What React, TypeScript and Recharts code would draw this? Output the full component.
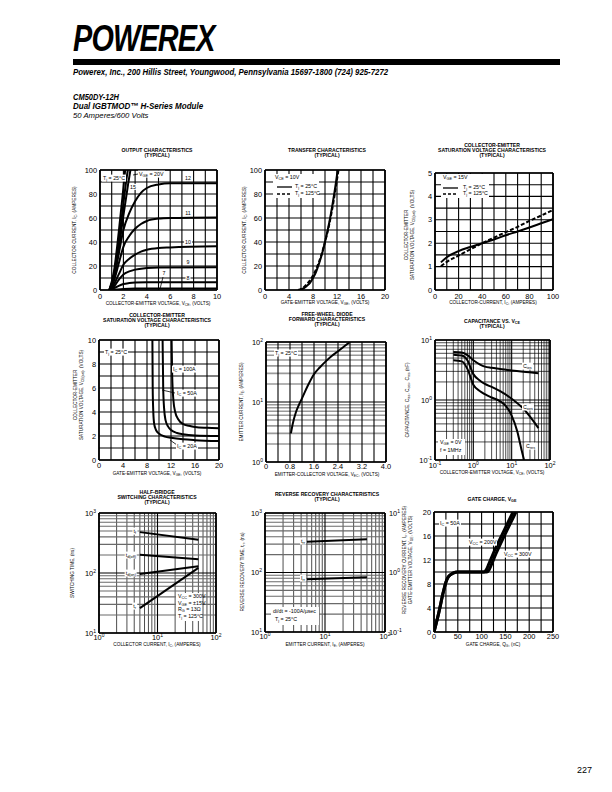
import React from 'react';
import { LineChart, Line, XAxis, YAxis, ReferenceLine } from 'recharts';

const FONT = '"Liberation Sans", Arial, Helvetica, sans-serif';

type Pt = { x: number; y: number };
const pts = (a: number[][]): Pt[] => a.map(([x, y]) => ({ x, y }));

// ---------- Chart 1: output characteristics ----------
const out7 = pts([[0.8, 0], [1.2, 0.3], [2, 0.9], [3, 1.2], [10, 1.3]]);
const out8 = pts([[0.8, 0], [1.2, 1.5], [1.6, 3.5], [2, 5], [2.5, 5.8], [3, 6.2], [4, 6.4], [10, 6.5]]);
const out9 = pts([[0.8, 0], [1.2, 3], [1.6, 8.5], [2, 13], [2.5, 15.5], [3, 17], [4, 18.3], [5, 18.8], [10, 19]]);
const out10 = pts([[0.8, 0], [1.2, 5], [1.6, 13], [2, 21], [2.5, 26], [3, 29.5], [3.5, 32], [4, 33.5], [5, 35], [6, 35.5], [10, 36.5]]);
const out11 = pts([[0.8, 0], [1.2, 8], [1.6, 22], [2, 36], [2.5, 45], [3, 51], [3.5, 55], [4, 57.5], [5, 59.5], [6, 60], [10, 60.5]]);
const out12 = pts([[0.8, 0], [1.2, 10], [1.6, 30], [2, 50], [2.5, 64], [3, 74], [3.5, 81], [4, 85], [5, 88], [6, 89], [10, 89]]);
const out13 = pts([[0.8, 0], [1.2, 11], [1.6, 34], [2, 62], [2.4, 88], [2.6, 100]]);
const out15 = pts([[0.8, 0], [1.2, 13], [1.6, 40], [2, 72], [2.3, 95], [2.38, 100]]);
const out20 = pts([[0.8, 0], [1.2, 16], [1.6, 48], [2, 85], [2.15, 100]]);
const c1XTicks = [0, 2, 4, 6, 8, 10];
const c1YTicks = [0, 20, 40, 60, 80, 100];

// ---------- Chart 2: transfer characteristics ----------
const tr25 = pts([[5.8, 0], [6.5, 1.5], [7, 3.5], [7.5, 6], [8, 10], [8.5, 15], [9, 22], [9.5, 30], [10, 40], [10.5, 51], [11, 64], [11.5, 79], [12, 96], [12.1, 100]]);
const tr125 = pts([[5.5, 0], [6.5, 2.5], [7, 5], [7.5, 8], [8, 12], [8.5, 17], [9, 23.5], [9.5, 31], [10, 40], [10.5, 50], [11, 62], [11.5, 76], [12, 92], [12.25, 100]]);
const c2XTicks = [0, 4, 8, 12, 16, 20];

// ---------- Chart 3: Vce(sat) vs Ic ----------
const sat25 = pts([[5, 1.18], [10, 1.4], [20, 1.66], [30, 1.84], [40, 2.0], [50, 2.16], [60, 2.34], [70, 2.5], [80, 2.67], [90, 2.85], [100, 3.03]]);
const sat125 = pts([[5, 1.02], [10, 1.2], [20, 1.47], [30, 1.74], [40, 2.0], [50, 2.24], [60, 2.47], [70, 2.7], [80, 2.95], [90, 3.18], [100, 3.42]]);
const c3XTicks = [0, 20, 40, 60, 80, 100];
const c3YTicks = [0, 1, 2, 3, 4, 5];

// ---------- Chart 4: Vce(sat) vs Vge ----------
const vg20 = pts([[8.9, 10], [8.95, 6], [9.05, 4], [9.2, 3], [9.5, 2.5], [10, 2.2], [11, 1.95], [12, 1.85], [14, 1.72], [16, 1.65], [20, 1.58]]);
const vg50 = pts([[10.6, 10], [10.7, 6], [10.85, 4.3], [11.1, 3.3], [11.5, 2.8], [12, 2.5], [13, 2.25], [14, 2.15], [16, 2.05], [20, 2.0]]);
const vg100 = pts([[12.1, 10], [12.2, 7], [12.4, 5], [12.7, 4], [13.2, 3.4], [14, 3.0], [15, 2.85], [16, 2.75], [18, 2.68], [20, 2.64]]);
const c4XTicks = [0, 4, 8, 12, 16, 20];
const c4YTicks = [0, 2, 4, 6, 8, 10];

// ---------- Chart 5: diode forward ----------
const diode = pts([[0.83, 3], [0.9, 4.5], [1.0, 6.8], [1.1, 9], [1.2, 11.5], [1.4, 19], [1.6, 29], [1.8, 38], [2.0, 48], [2.2, 59], [2.4, 70], [2.6, 84], [2.8, 100]]);
const c5XTicks = [0, 0.8, 1.6, 2.4, 3.2, 4.0];
const c5YTicks = [1, 10, 100];

// ---------- Chart 6: capacitance ----------
const cies = pts([[0.3, 6.3], [0.5, 6.2], [0.7, 5.6], [1, 4.6], [1.5, 3.9], [2, 3.6], [3, 3.45], [5, 3.3], [10, 3.1], [20, 2.95], [50, 2.8]]);
const coes = pts([[0.3, 5.7], [0.5, 5.5], [0.7, 4.6], [1, 2.7], [1.5, 2.1], [2, 1.85], [3, 1.65], [5, 1.4], [10, 1.05], [20, 0.72], [50, 0.34]]);
const cres = pts([[0.3, 4.6], [0.5, 4.4], [0.7, 3.3], [1, 1.8], [1.5, 1.4], [2, 1.25], [3, 1.1], [5, 0.95], [7, 0.8], [10, 0.55], [14, 0.3], [18, 0.15], [21, 0.1]]);
const c6XTicks = [0.1, 1, 10, 100];
const c6YTicks = [0.1, 1, 10];

// ---------- Chart 7: switching ----------
const swTf = pts([[5, 480], [50, 358]]);
const swTdOff = pts([[5, 202], [50, 170]]);
const swTdOn = pts([[5, 96], [50, 130]]);
const swTr = pts([[5, 26], [50, 122]]);
const c7XTicks = [1, 10, 100];
const c7YTicks = [10, 100, 1000];

// ---------- Chart 8: reverse recovery ----------
const rrTrr = pts([[5, 330], [50, 362]]);
const rrIrr = pts([[5, 0.77], [50, 0.83]]);
const c8YRTicks = [0.1, 1, 10];

// ---------- Chart 9: gate charge ----------
const qg200 = pts([[0, 0], [10, 3.2], [20, 6.8], [25, 8.3], [30, 9.2], [40, 9.8], [50, 10], [105, 10], [110, 10.4], [115, 11.3], [124, 13], [144, 16.4], [160, 19], [166, 20]]);
const qg300 = pts([[0, 0], [10, 3.2], [20, 6.8], [25, 8.3], [30, 9.2], [40, 9.8], [50, 10], [111, 10], [116, 10.4], [121, 11.3], [130, 13], [150, 16.4], [166, 19], [172, 20]]);
const c9XTicks = [0, 50, 100, 150, 200, 250];
const c9YTicks = [0, 4, 8, 12, 16, 20];

// ---------- helpers ----------
const seq = (a: number, b: number, s: number) => {
  const r: number[] = [];
  for (let v = a; v <= b + 1e-9; v += s) r.push(Math.round(v * 1e6) / 1e6);
  return r;
};
const logMinor = (lo: number, hi: number) => {
  const r: number[] = [];
  for (let d = lo; d < hi - 1e-9; d *= 10) for (let k = 2; k <= 9; k++) r.push(Math.round(k * d * 1e6) / 1e6);
  return r;
};
const pw = (v: number) => {
  const e = Math.round(Math.log10(v));
  return [<tspan key="b">10</tspan>, <tspan key="e" dy="-0.55em" fontSize={5}>{e}</tspan>];
};
const f1 = (v: number) => (v === 0 ? '0' : v.toFixed(1));

const XT = ({ x, y, payload, fmt }: any) => (
  <text x={x} y={y} dy="0.35em" textAnchor="middle" fontSize={7.4} fontFamily={FONT} fill="#000">
    {fmt ? fmt(payload.value) : String(payload.value)}
  </text>
);
const YT = ({ x, y, payload, fmt, anchor }: any) => (
  <text x={x} y={y} dy="0.35em" textAnchor={anchor || 'end'} fontSize={7.4} fontFamily={FONT} fill="#000">
    {fmt ? fmt(payload.value) : String(payload.value)}
  </text>
);

type Ax = { d: [number, number]; log?: boolean; ticks: number[]; fmt?: (v: number) => any };
type GS = { c: string; w: number };
const MAJ: GS = { c: '#000', w: 1.1 };
const THIN: GS = { c: '#000', w: 0.7 };
const GRAY: GS = { c: '#9a9a9a', w: 1.6 };
const MIDG: GS = { c: '#6a6a6a', w: 1.1 };

function Plot(props: any) {
  const { box, x, y, y2, xg = [], yg = [], xm = [], ym = [], xmS = THIN, ymS = THIN, tm = 6.5, children } = props;
  const [L, T, W, H] = box;
  const lw = 34, rw = y2 ? 30 : 12, tp = 6, bh = 16;
  return (
    <div style={{ position: 'absolute', left: L - lw, top: T - tp }}>
      <LineChart width={W + lw + rw} height={H + tp + bh} margin={{ top: tp, right: y2 ? 0 : rw, bottom: 0, left: 0 }}>
        <XAxis type="number" dataKey="x" scale={x.log ? 'log' : 'linear'} domain={x.d} allowDataOverflow ticks={x.ticks} interval={0}
          axisLine={false} tickLine={false} tickSize={0} tickMargin={tm} height={bh} tick={(p: any) => <XT {...p} fmt={x.fmt} />} />
        <YAxis type="number" scale={y.log ? 'log' : 'linear'} domain={y.d} allowDataOverflow ticks={y.ticks} interval={0}
          axisLine={false} tickLine={false} tickSize={0} tickMargin={3} width={lw} tick={(p: any) => <YT {...p} fmt={y.fmt} />} />
        {y2 && (
          <YAxis yAxisId="r" orientation="right" type="number" scale={y2.log ? 'log' : 'linear'} domain={y2.d} allowDataOverflow ticks={y2.ticks} interval={0}
            axisLine={false} tickLine={false} tickSize={0} tickMargin={4} width={rw} tick={(p: any) => <YT {...p} fmt={y2.fmt} anchor="start" />} />
        )}
        {xm.map((v: number) => <ReferenceLine key={'xm' + v} x={v} stroke={xmS.c} strokeWidth={xmS.w} ifOverflow="visible" />)}
        {ym.map((v: number) => <ReferenceLine key={'ym' + v} y={v} stroke={ymS.c} strokeWidth={ymS.w} ifOverflow="visible" />)}
        {xg.map((v: number) => <ReferenceLine key={'xg' + v} x={v} stroke={MAJ.c} strokeWidth={MAJ.w} ifOverflow="visible" />)}
        {yg.map((v: number) => <ReferenceLine key={'yg' + v} y={v} stroke={MAJ.c} strokeWidth={MAJ.w} ifOverflow="visible" />)}
        <ReferenceLine x={x.d[0]} stroke="#000" strokeWidth={1.7} ifOverflow="visible" />
        <ReferenceLine x={x.d[1]} stroke="#000" strokeWidth={1.7} ifOverflow="visible" />
        <ReferenceLine y={y.d[0]} stroke="#000" strokeWidth={1.7} ifOverflow="visible" />
        <ReferenceLine y={y.d[1]} stroke="#000" strokeWidth={1.7} ifOverflow="visible" />
        {children}
      </LineChart>
    </div>
  );
}

const ln = (d: Pt[], k: string, extra: any = {}) => (
  <Line key={k} data={d} dataKey="y" type="monotone" dot={false} activeDot={false} stroke="#000" strokeWidth={2}
    isAnimationActive={false} {...extra} />
);

function rich(str: string, s: number) {
  const out: any[] = [];
  const re = /([_^])\{([^}]*)\}/g;
  let last = 0, m: any, k = 0;
  while ((m = re.exec(str))) {
    if (m.index > last) out.push(str.slice(last, m.index));
    const sub = m[1] === '_';
    out.push(<span key={k++} style={{ fontSize: Math.max(s * 0.72, 3), position: 'relative', top: sub ? s * 0.28 : -s * 0.4 }}>{m[2]}</span>);
    last = re.lastIndex;
  }
  if (last < str.length) out.push(str.slice(last));
  return out;
}

function Tx({ x, y, t, s = 5.5, b = false, it = false, a = 's', rot = false, bg = false, sx = 1 }: any) {
  const tx = a === 'm' ? '-50%' : a === 'e' ? '-100%' : '0';
  let tr = `translate(${tx},-50%)`;
  if (rot) tr += ' rotate(-90deg)';
  if (sx !== 1) tr += ` scaleX(${sx})`;
  return (
    <div style={{
      position: 'absolute', left: x, top: y, fontSize: s, fontWeight: b ? 700 : 400, fontStyle: it ? 'italic' : 'normal',
      fontFamily: FONT, whiteSpace: 'nowrap', lineHeight: 1, color: '#000', transform: tr,
      transformOrigin: sx !== 1 && a === 's' ? 'left center' : 'center center',
      background: bg ? '#fff' : 'transparent', padding: bg ? '0.5px 1px' : 0,
    }}>{rich(t, s)}</div>
  );
}
const Box = ({ x, y, w, h }: any) => <div style={{ position: 'absolute', left: x, top: y, width: w, height: h, background: '#fff' }} />;

const TS = 5.1; // title size
const AS = 4.7; // axis title size

export default function App() {
  return (
    <div style={{ position: 'absolute', left: 0, top: 0, width: 612, height: 792, background: '#fff', overflow: 'hidden', fontFamily: FONT }}>
      {/* header */}
      <div style={{ position: 'absolute', left: 73, top: 21, fontSize: 36, fontWeight: 700, fontStyle: 'italic', fontFamily: FONT, lineHeight: 1,
        transform: 'scaleX(0.8)', transformOrigin: 'left top', letterSpacing: -1 }}>POWEREX</div>
      <div style={{ position: 'absolute', left: 73, top: 59, width: 487, height: 6, background: '#000' }} />
      <Tx x={73} y={72} t="Powerex, Inc., 200 Hillis Street, Youngwood, Pennsylvania 15697-1800 (724) 925-7272" s={8.5} b it sx={0.92} />
      <Tx x={73} y={97} t="CM50DY-12H" s={8.5} b it sx={0.88} />
      <Tx x={73} y={106} t="Dual IGBTMOD™ H-Series Module" s={8.5} b it sx={0.94} />
      <Tx x={73} y={116} t="50 Amperes/600 Volts" s={7.5} it sx={1.03} />
      <Tx x={592} y={770} t="227" s={9} a="e" />

      {/* Chart 1 */}
      <Plot box={[100, 170, 117, 120]} x={{ d: [0, 10], ticks: c1XTicks }} y={{ d: [0, 100], ticks: c1YTicks }}
        xg={seq(0, 10, 1)} yg={seq(0, 100, 10)}>
        {ln(out7, 'a')}{ln(out8, 'b')}{ln(out9, 'c')}{ln(out10, 'd')}{ln(out11, 'e')}{ln(out12, 'f')}
        {ln(out13, 'g')}{ln(out15, 'h')}{ln(out20, 'i')}
      </Plot>
      {/* Chart 2 */}
      <Plot box={[265, 170, 120, 120]} x={{ d: [0, 20], ticks: c2XTicks }} y={{ d: [0, 100], ticks: c1YTicks }}
        xg={seq(0, 20, 2)} yg={seq(0, 100, 10)}>
        {ln(tr25, 'a')}{ln(tr125, 'b', { strokeDasharray: '4 2' })}
      </Plot>
      {/* Chart 3 */}
      <Plot box={[435, 173, 118, 117]} x={{ d: [0, 100], ticks: c3XTicks }} y={{ d: [0, 5], ticks: c3YTicks }}
        xg={seq(0, 100, 10)} yg={seq(0, 5, 0.5)}>
        {ln(sat25, 'a')}{ln(sat125, 'b', { strokeDasharray: '4 2' })}
      </Plot>
      {/* Chart 4 */}
      <Plot box={[99, 340, 120, 120]} x={{ d: [0, 20], ticks: c4XTicks }} y={{ d: [0, 10], ticks: c4YTicks }} tm={5}
        xg={seq(0, 20, 2)} yg={seq(0, 10, 1)}>
        {ln(vg20, 'a')}{ln(vg50, 'b')}{ln(vg100, 'c')}
      </Plot>
      {/* Chart 5 */}
      <Plot box={[266, 342, 120, 120]} x={{ d: [0, 4], ticks: c5XTicks, fmt: f1 }} y={{ d: [1, 100], log: true, ticks: c5YTicks, fmt: pw }} tm={4.5}
        xg={seq(0, 4, 0.4)} yg={[1, 10, 100]} ym={logMinor(1, 100)} ymS={GRAY}>
        {ln(diode, 'a')}
      </Plot>
      {/* Chart 6 */}
      <Plot box={[435, 340, 115, 120]} x={{ d: [0.1, 100], log: true, ticks: c6XTicks, fmt: pw }} y={{ d: [0.1, 10], log: true, ticks: c6YTicks, fmt: pw }} tm={5}
        xg={c6XTicks} yg={c6YTicks} xm={logMinor(0.1, 100)} ym={logMinor(0.1, 10)}>
        {ln(cies, 'a')}{ln(coes, 'b')}{ln(cres, 'c')}
      </Plot>
      {/* Chart 7 */}
      <Plot box={[99, 513, 117, 120]} x={{ d: [1, 100], log: true, ticks: c7XTicks, fmt: pw }} y={{ d: [10, 1000], log: true, ticks: c7YTicks, fmt: pw }} tm={4}
        xg={c7XTicks} yg={c7YTicks} xm={logMinor(1, 100)} ym={logMinor(10, 1000)} ymS={MIDG}>
        {ln(swTf, 'a', { type: 'linear' })}{ln(swTdOff, 'b', { type: 'linear' })}{ln(swTdOn, 'c', { type: 'linear' })}{ln(swTr, 'd', { type: 'linear' })}
      </Plot>
      {/* Chart 8 */}
      <Plot box={[265, 513, 120, 119]} x={{ d: [1, 100], log: true, ticks: c7XTicks, fmt: pw }} y={{ d: [10, 1000], log: true, ticks: c7YTicks, fmt: pw }} tm={4}
        y2={{ d: [0.1, 10], log: true, ticks: c8YRTicks, fmt: pw }}
        xg={c7XTicks} yg={c7YTicks} xm={logMinor(1, 100)} ym={logMinor(10, 1000)} ymS={MIDG}>
        {ln(rrTrr, 'a', { type: 'linear' })}{ln(rrIrr, 'b', { type: 'linear', yAxisId: 'r' })}
      </Plot>
      {/* Chart 9 */}
      <Plot box={[434, 512, 119, 120]} x={{ d: [0, 250], ticks: c9XTicks }} y={{ d: [0, 20], ticks: c9YTicks }} tm={4}
        xg={seq(0, 250, 25)} yg={seq(0, 20, 2)}>
        {ln(qg200, 'a', { strokeWidth: 3 })}{ln(qg300, 'b', { strokeWidth: 3 })}
      </Plot>

      {/* legend boxes */}
      <Box x={273} y={174} w={46} h={24} />
      <Box x={441} y={174} w={48} h={24} />
      <Box x={438} y={439} w={27} h={16} />
      <Box x={176} y={593} w={26} h={28} />
      <Box x={271} y={607} w={48} h={18} />

      <svg width={612} height={792} style={{ position: 'absolute', left: 0, top: 0 }}>
        <line x1={277} y1={187} x2={292} y2={187} stroke="#000" strokeWidth={1.3} />
        <line x1={277} y1={194} x2={292} y2={194} stroke="#000" strokeWidth={1.3} strokeDasharray="3 2" />
        <line x1={443} y1={188} x2={458} y2={188} stroke="#000" strokeWidth={1.3} />
        <line x1={443} y1={194} x2={458} y2={194} stroke="#000" strokeWidth={1.3} strokeDasharray="3 2" />
        <line x1={133} y1={175} x2={138} y2={174} stroke="#000" strokeWidth={0.8} />
        <line x1={163} y1={277} x2={160} y2={289} stroke="#000" strokeWidth={0.8} />
        <line x1={162} y1={390} x2={175} y2={393} stroke="#000" strokeWidth={0.8} />
        <line x1={170} y1={440} x2={177} y2={445} stroke="#000" strokeWidth={0.8} />
      </svg>

      {/* titles */}
      <Tx x={157} y={151} t="OUTPUT CHARACTERISTICS" s={TS} b a="m" />
      <Tx x={157} y={156} t="(TYPICAL)" s={TS} b a="m" />
      <Tx x={327} y={151} t="TRANSFER CHARACTERISTICS" s={TS} b a="m" />
      <Tx x={327} y={156} t="(TYPICAL)" s={TS} b a="m" />
      <Tx x={492} y={146} t="COLLECTOR-EMITTER" s={TS} b a="m" />
      <Tx x={492} y={151} t="SATURATION VOLTAGE CHARACTERISTICS" s={TS} b a="m" />
      <Tx x={492} y={156} t="(TYPICAL)" s={TS} b a="m" />
      <Tx x={157} y={316} t="COLLECTOR-EMITTER" s={TS} b a="m" />
      <Tx x={157} y={321} t="SATURATION VOLTAGE CHARACTERISTICS" s={TS} b a="m" />
      <Tx x={157} y={326} t="(TYPICAL)" s={TS} b a="m" />
      <Tx x={327} y={315} t="FREE-WHEEL DIODE" s={TS} b a="m" />
      <Tx x={327} y={320} t="FORWARD CHARACTERISTICS" s={TS} b a="m" />
      <Tx x={327} y={325} t="(TYPICAL)" s={TS} b a="m" />
      <Tx x={492} y={322} t="CAPACITANCE VS. V_{CE}" s={TS} b a="m" />
      <Tx x={492} y={327} t="(TYPICAL)" s={TS} b a="m" />
      <Tx x={157} y={493} t="HALF-BRIDGE" s={TS} b a="m" />
      <Tx x={157} y={498} t="SWITCHING CHARACTERISTICS" s={TS} b a="m" />
      <Tx x={157} y={503} t="(TYPICAL)" s={TS} b a="m" />
      <Tx x={327} y={495} t="REVERSE RECOVERY CHARACTERISTICS" s={TS} b a="m" />
      <Tx x={327} y={500} t="(TYPICAL)" s={TS} b a="m" />
      <Tx x={492} y={500} t="GATE CHARGE, V_{GE}" s={TS} b a="m" />

      {/* x axis titles */}
      <Tx x={158} y={304} t="COLLECTOR-EMITTER VOLTAGE, V_{CE}, (VOLTS)" s={AS} a="m" />
      <Tx x={325} y={303} t="GATE-EMITTER VOLTAGE, V_{GE}, (VOLTS)" s={AS} a="m" />
      <Tx x={493} y={303} t="COLLECTOR-CURRENT, I_{C}, (AMPERES)" s={AS} a="m" />
      <Tx x={157} y={474} t="GATE-EMITTER VOLTAGE, V_{GE}, (VOLTS)" s={AS} a="m" />
      <Tx x={327} y={475} t="EMITTER-COLLECTOR VOLTAGE, V_{EC}, (VOLTS)" s={AS} a="m" />
      <Tx x={492} y={473} t="COLLECTOR-EMITTER VOLTAGE, V_{CE}, (VOLTS)" s={AS} a="m" />
      <Tx x={157} y={645} t="COLLECTOR CURRENT, I_{C}, (AMPERES)" s={AS} a="m" />
      <Tx x={325} y={645} t="EMITTER CURRENT, I_{E}, (AMPERES)" s={AS} a="m" />
      <Tx x={493} y={645} t="GATE CHARGE, Q_{G}, (nC)" s={AS} a="m" />

      {/* y axis titles */}
      <Tx x={75} y={230} t="COLLECTOR CURRENT, I_{C}, (AMPERES)" s={AS} a="m" rot />
      <Tx x={245} y={230} t="COLLECTOR CURRENT, I_{C}, (AMPERES)" s={AS} a="m" rot />
      <Tx x={407} y={235} t="COLLECTOR-EMITTER" s={AS} a="m" rot />
      <Tx x={413} y={235} t="SATURATION VOLTAGE, V_{CE(sat)}, (VOLTS)" s={AS} a="m" rot />
      <Tx x={76} y={395} t="COLLECTOR-EMITTER" s={AS} a="m" rot />
      <Tx x={82} y={395} t="SATURATION VOLTAGE, V_{CE(sat)}, (VOLTS)" s={AS} a="m" rot />
      <Tx x={242} y={402} t="EMITTER CURRENT, I_{E}, (AMPERES)" s={AS} a="m" rot />
      <Tx x={408} y={400} t="CAPACITANCE, C_{ies}, C_{oes}, C_{res} (nF)" s={AS} a="m" rot />
      <Tx x={73} y={573} t="SWITCHING TIME, (ns)" s={AS} a="m" rot />
      <Tx x={243} y={572} t="REVERSE RECOVERY TIME, t_{rr}, (ns)" s={AS} a="m" rot />
      <Tx x={405} y={560} t="REVERSE RECOVERY CURRENT, I_{rr}, (AMPERES)" s={AS} a="m" rot />
      <Tx x={411} y={560} t="GATE-EMITTER VOLTAGE, V_{GE}, (VOLTS)" s={AS} a="m" rot />

      {/* chart 1 annotations */}
      <Tx x={102} y={178} t="T_{j} = 25°C" s={5.3} bg />
      <Tx x={138} y={174} t="V_{GE} = 20V" s={5.3} bg />
      <Tx x={188} y={178} t="12" s={5.3} a="m" bg />
      <Tx x={133} y={187} t="15" s={5.3} a="m" bg />
      <Tx x={188} y={213} t="11" s={5.3} a="m" bg />
      <Tx x={188} y={242} t="10" s={5.3} a="m" bg />
      <Tx x={188} y={262} t="9" s={5.3} a="m" bg />
      <Tx x={188} y={278} t="8" s={5.3} a="m" bg />
      <Tx x={164} y={273} t="7" s={5.3} a="m" bg />
      {/* chart 2 legend */}
      <Tx x={275} y={178} t="V_{CE} = 10V" s={5.3} />
      <Tx x={295} y={187} t="T_{j} = 25°C" s={5.3} />
      <Tx x={295} y={194} t="T_{j} = 125°C" s={5.3} />
      {/* chart 3 legend */}
      <Tx x={443} y={178} t="V_{GE} = 15V" s={5.3} />
      <Tx x={463} y={188} t="T_{j} = 25°C" s={5.3} />
      <Tx x={463} y={194} t="T_{j} = 125°C" s={5.3} />
      {/* chart 4 */}
      <Tx x={104} y={352} t="T_{j} = 25°C" s={5.3} bg />
      <Tx x={172} y={369} t="I_{C} = 100A" s={5.3} bg />
      <Tx x={176} y={393} t="I_{C} = 50A" s={5.3} bg />
      <Tx x={176} y={446} t="I_{C} = 20A" s={5.3} bg />
      {/* chart 5 */}
      <Tx x={274} y={353} t="T_{j} = 25°C" s={5.3} bg />
      {/* chart 6 */}
      <Tx x={522} y={366} t="C_{ies}" s={5.3} bg />
      <Tx x={522} y={407} t="C_{oes}" s={5.3} bg />
      <Tx x={525} y={446} t="C_{res}" s={5.3} bg />
      <Tx x={440} y={443} t="V_{GE} = 0V" s={5.3} />
      <Tx x={440} y={451} t="f = 1MHz" s={5.3} />
      {/* chart 7 */}
      <Tx x={137} y={531} t="t_{f}" s={5.3} a="e" bg />
      <Tx x={137} y={555} t="t_{d(off)}" s={5.3} a="e" bg />
      <Tx x={137} y={573} t="t_{d(on)}" s={5.3} a="e" bg />
      <Tx x={137} y={606} t="t_{r}" s={5.3} a="e" bg />
      <Tx x={178} y={597} t="V_{CC} = 300V" s={5.3} />
      <Tx x={178} y={604} t="V_{GE} = ±15V" s={5.3} />
      <Tx x={178} y={610} t="R_{G} = 13Ω" s={5.3} />
      <Tx x={178} y={617} t="T_{j} = 125°C" s={5.3} />
      {/* chart 8 */}
      <Tx x={306} y={541} t="t_{rr}" s={5.3} a="e" bg />
      <Tx x={306} y={578} t="I_{rr}" s={5.3} a="e" bg />
      <Tx x={273} y={612} t="di/dt = -100A/µsec" s={5.3} />
      <Tx x={275} y={620} t="T_{j} = 25°C" s={5.3} />
      {/* chart 9 */}
      <Tx x={439} y={523} t="I_{C} = 50A" s={5.3} bg />
      <Tx x={468} y={542} t="V_{CC} = 200V" s={5.3} bg />
      <Tx x={503} y={554} t="V_{CC} = 300V" s={5.3} bg />
    </div>
  );
}
